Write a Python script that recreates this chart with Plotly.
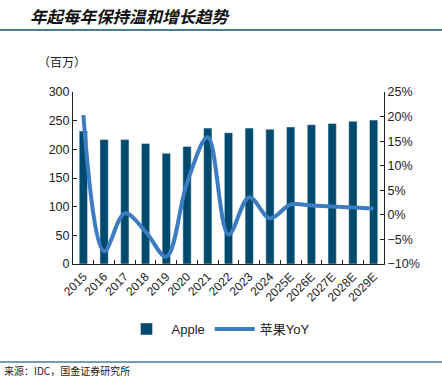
import plotly.graph_objects as go

years = ["2015", "2016", "2017", "2018", "2019", "2020", "2021", "2022", "2023", "2024",
         "2025E", "2026E", "2027E", "2028E", "2029E"]
apple = [232, 217, 217, 210, 193, 205, 237, 229, 237, 235, 239, 243, 245, 249, 251]
yoy = [20.3, -7.4, 0.3, -3.4, -8.5, 6.5, 15.8, -4.0, 3.6, -0.7, 2.1, 1.9, 1.7, 1.5, 1.3]

title_text = "年起每年保持温和增长趋势"
unit_text = "（百万）"
source_text = "来源：IDC，国金证券研究所"

BAR = "#004a6e"
LINE = "#3c7cc0"
FONT = "Liberation Sans, Arial, sans-serif"
CJK = "Noto Sans CJK SC"

fig = go.Figure()
fig.add_trace(go.Bar(x=years, y=apple, name="Apple", marker_color=BAR, width=0.4, yaxis="y"))
fig.add_trace(go.Scatter(x=years, y=yoy, name="苹果YoY", mode="lines",
                         line=dict(color=LINE, width=4, shape="spline", smoothing=1.0),
                         yaxis="y2"))

L, R, T, B = 73, 58, 92, 114
W, H = 442, 378
pw, ph = W - L - R, H - T - B

def px(x):
    return (x - L) / pw

def py(y):
    return (H - B - y) / ph

fig.update_layout(
    width=W, height=H,
    margin=dict(l=L, r=R, t=T, b=B, autoexpand=False),
    paper_bgcolor="white", plot_bgcolor="white",
    font=dict(family=FONT, size=12, color="#222"),
    showlegend=True,
    legend=dict(orientation="h", x=px(218), xanchor="center", yref="container",
                y=1 - 329 / H, yanchor="middle",
                font=dict(family=FONT + ", " + CJK, size=13, color="#222"),
                itemwidth=40, traceorder="normal"),
    bargap=0.6,
    xaxis=dict(type="category", showline=True, linecolor="#222", linewidth=1, automargin=False,
               ticks="inside", ticklen=4, tickcolor="#222", tickson="boundaries",
               tickangle=-45, tickfont=dict(size=12), showgrid=False),
    yaxis=dict(range=[0, 300], dtick=50, showline=True, linecolor="#222", linewidth=1,
               automargin=False,
               ticks="inside", ticklen=4, tickcolor="#222", showgrid=False, zeroline=False,
               tickfont=dict(size=12.5)),
    yaxis2=dict(range=[-10, 25], dtick=5, ticksuffix="%", overlaying="y", side="right",
                automargin=False,
                showline=True, linecolor="#222", linewidth=1, ticks="inside", ticklen=4,
                tickcolor="#222", showgrid=False, zeroline=False, tickfont=dict(size=12.5)),
)

fig.add_annotation(text=title_text, xref="paper", yref="paper", x=px(28), y=py(16),
                   xanchor="left", yanchor="middle", showarrow=False,
                   font=dict(family=CJK, size=16.5, color="#111", style="italic", weight="bold"))
fig.add_annotation(text=unit_text, xref="paper", yref="paper", x=px(36), y=py(62),
                   xanchor="left", yanchor="middle", showarrow=False,
                   font=dict(family=CJK, size=12, color="#222"))
fig.add_annotation(text=source_text, xref="paper", yref="paper", x=px(2), y=py(370),
                   xanchor="left", yanchor="middle", showarrow=False,
                   font=dict(family=CJK, size=10, color="#222"))
fig.add_shape(type="line", xref="paper", yref="paper", x0=px(0), x1=px(W), y0=py(30), y1=py(30),
              line=dict(color="#4a7d9c", width=2))
fig.add_shape(type="line", xref="paper", yref="paper", x0=px(0), x1=px(W), y0=py(362), y1=py(362),
              line=dict(color="#4a7d9c", width=1.5))

fig.write_html("out.html", config={"displayModeBar": False},
               post_script="document.body.style.margin='0';document.body.style.overflow='hidden';")
